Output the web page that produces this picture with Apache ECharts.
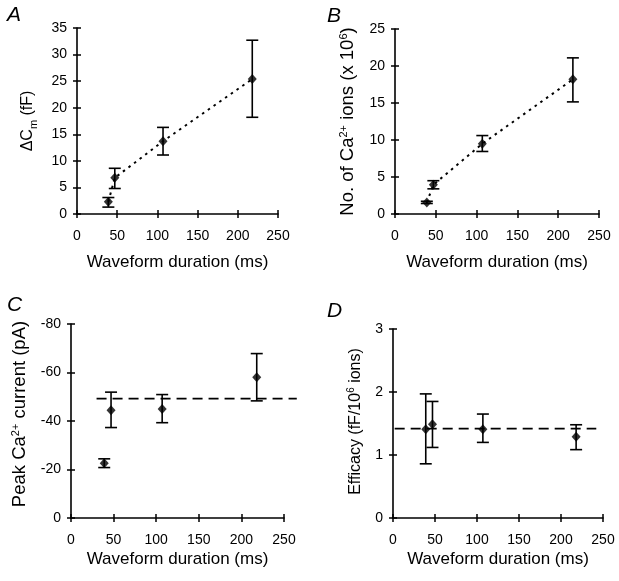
<!DOCTYPE html>
<html>
<head>
<meta charset="utf-8">
<script src="https://cdn.jsdelivr.net/npm/echarts@6/dist/echarts.min.js"></script>
<style>html,body{margin:0;padding:0;background:#fff}#c{width:619px;height:581px}</style>
</head>
<body>
<div id="c"></div>
<script>
// ---- data ----
const durationMs = [39, 47, 107, 218];
const xTicks = [0, 50, 100, 150, 200, 250];

// A: capacitance change (fF)
const capMean = [2.3, 6.8, 13.7, 25.4];
const capLow  = [1.3, 4.8, 11.1, 18.2];
const capHigh = [3.1, 8.6, 16.3, 32.7];

// B: number of Ca2+ ions (x 10^6)
const ionsMean = [1.56, 3.95, 9.5, 18.2];
const ionsLow  = [1.42, 3.4, 8.45, 15.15];
const ionsHigh = [1.72, 4.5, 10.6, 21.1];

// C: peak Ca2+ current (pA)
const currMean = [-22.6, -44.4, -44.9, -58.0];
const currLow  = [-20.8, -37.3, -39.3, -48.3];
const currHigh = [-24.4, -51.9, -50.9, -67.8];
const currFitX = [30, 265];
const currFitY = -49.2;

// D: efficacy (fF / 10^6 ions)
const effMean = [1.41, 1.49, 1.41, 1.29];
const effLow  = [0.86, 1.12, 1.2, 1.085];
const effHigh = [1.97, 1.85, 1.65, 1.48];
const effFitX = [2, 242];
const effFitY = 1.42;

// ---- chart ----
const FONT = '"Liberation Sans", Arial, Helvetica, sans-serif';
const chart = echarts.init(document.getElementById('c'), null, {renderer: 'canvas'});

const grids = [
  {left: 77, top: 28, width: 201, height: 186},
  {left: 395, top: 29, width: 204, height: 185},
  {left: 71, top: 324, width: 213, height: 194},
  {left: 393, top: 329, width: 210, height: 189}
];
const xNameGap = [40, 40, 33, 33];
const yCfg = [
  {min: 0, max: 35, interval: 5, inverse: false, name: '{n|ΔC}{sub|m}{n| (fF)}', gap: 38, fs: 16, pad: [0, 0, 0, 0]},
  {min: 0, max: 25, interval: 5, inverse: false, name: '{n|No. of Ca}{sup|2+}{n| ions (x 10}{sup|6}{n|)}', gap: 36, fs: 18.5, pad: [0, 0, 0, 0]},
  {min: -80, max: 0, interval: 20, inverse: true, name: '{n|Peak Ca}{sup|2+}{n| current (pA)}', gap: 40, fs: 18.5, pad: [0, 0, 0, 14]},
  {min: 0, max: 3, interval: 1, inverse: false, name: '{n|Efficacy (fF/10}{sup|6}{n| ions)}', gap: 26, fs: 16, pad: [0, 0, 0, 4]}
];

const xAxis = [], yAxis = [];
grids.forEach((g, i) => {
  xAxis.push({
    gridIndex: i, type: 'value', min: 0, max: 250, interval: 50, position: 'bottom',
    axisLine: {show: true, lineStyle: {color: '#000', width: 1.6}},
    axisTick: {show: true, inside: false, length: 4, lineStyle: {color: '#000', width: 1.5}},
    axisLabel: {show: true, color: '#000', fontSize: 14, fontFamily: FONT, margin: 15},
    splitLine: {show: false},
    name: 'Waveform duration (ms)', nameLocation: 'middle', nameGap: xNameGap[i],
    nameTextStyle: {color: '#000', fontSize: 17, fontFamily: FONT}
  });
  xAxis.push({
    gridIndex: i, type: 'value', min: 0, max: 250, interval: 50, position: 'bottom',
    axisLine: {show: false},
    axisTick: {show: true, inside: true, length: 4, lineStyle: {color: '#000', width: 1.5}},
    axisLabel: {show: false}, splitLine: {show: false}
  });
  const c = yCfg[i];
  const supFs = Math.round(c.fs * 0.62);
  const rich = {
    n: {fontSize: c.fs, fontFamily: FONT, color: '#000', lineHeight: 22, verticalAlign: 'middle'},
    sup: {fontSize: supFs, fontFamily: FONT, color: '#000', lineHeight: 22, verticalAlign: 'top', padding: [1, 0, 0, 0]},
    sub: {fontSize: 11, fontFamily: FONT, color: '#000', lineHeight: 22, verticalAlign: 'bottom'}
  };
  yAxis.push({
    gridIndex: i, type: 'value', min: c.min, max: c.max, interval: c.interval, inverse: c.inverse, position: 'left',
    axisLine: {show: true, onZero: false, lineStyle: {color: '#000', width: 1.6}},
    axisTick: {show: true, inside: false, length: 4, lineStyle: {color: '#000', width: 1.5}},
    axisLabel: {show: true, color: '#000', fontSize: 14, fontFamily: FONT, margin: 10},
    splitLine: {show: false},
    name: c.name, nameLocation: 'middle', nameGap: c.gap, nameRotate: 90,
    nameTextStyle: {rich: rich, fontSize: c.fs, fontFamily: FONT, color: '#000', padding: c.pad}
  });
  yAxis.push({
    gridIndex: i, type: 'value', min: c.min, max: c.max, interval: c.interval, inverse: c.inverse, position: 'left',
    axisLine: {show: false},
    axisTick: {show: true, inside: true, length: 4, lineStyle: {color: '#000', width: 1.5}},
    axisLabel: {show: false}, splitLine: {show: false}
  });
});

function errRender(params, api) {
  const x = api.value(0), lo = api.value(1), hi = api.value(2);
  const a = api.coord([x, lo]), b = api.coord([x, hi]);
  const hw = 6;
  const st = {stroke: '#000', lineWidth: 1.6};
  return {type: 'group', children: [
    {type: 'line', shape: {x1: a[0], y1: a[1], x2: b[0], y2: b[1]}, style: st},
    {type: 'line', shape: {x1: a[0] - hw, y1: a[1], x2: a[0] + hw, y2: a[1]}, style: st},
    {type: 'line', shape: {x1: b[0] - hw, y1: b[1], x2: b[0] + hw, y2: b[1]}, style: st}
  ]};
}

function fitRender(params, api) {
  const a = api.coord([api.value(0), api.value(2)]);
  const b = api.coord([api.value(1), api.value(2)]);
  return {type: 'line', shape: {x1: a[0], y1: a[1], x2: b[0], y2: b[1]},
    style: {stroke: '#000', lineWidth: 1.8, lineDash: [10, 6]}};
}

const panels = [
  {mean: capMean, lo: capLow, hi: capHigh},
  {mean: ionsMean, lo: ionsLow, hi: ionsHigh},
  {mean: currMean, lo: currLow, hi: currHigh, fitX: currFitX, fitY: currFitY},
  {mean: effMean, lo: effLow, hi: effHigh, fitX: effFitX, fitY: effFitY}
];

const series = [];
panels.forEach((p, i) => {
  const xi = 2 * i, yi = 2 * i;
  if (p.fitX) {
    series.push({
      type: 'custom', xAxisIndex: xi, yAxisIndex: yi, clip: false, renderItem: fitRender,
      data: [[p.fitX[0], p.fitX[1], p.fitY]], z: 2, silent: true
    });
  } else {
    series.push({
      type: 'line', xAxisIndex: xi, yAxisIndex: yi, showSymbol: false, symbol: 'none',
      data: durationMs.map((x, k) => [x, p.mean[k]]),
      lineStyle: {color: '#000', width: 2, type: [2.5, 4.5]}, z: 2, silent: true
    });
  }
  series.push({
    type: 'custom', xAxisIndex: xi, yAxisIndex: yi, renderItem: errRender, clip: false,
    data: durationMs.map((x, k) => [x, p.lo[k], p.hi[k]]), z: 3, silent: true
  });
  series.push({
    type: 'scatter', xAxisIndex: xi, yAxisIndex: yi, symbol: 'diamond', symbolSize: [9, 10],
    itemStyle: {color: '#000'}, data: durationMs.map((x, k) => [x, p.mean[k]]), z: 4, silent: true
  });
});

const letters = [['A', 7, 5], ['B', 327, 6], ['C', 7, 295], ['D', 327, 301]];
const title = letters.map(l => ({
  text: l[0], left: l[1], top: l[2], padding: 0,
  textStyle: {fontSize: 21, fontStyle: 'italic', fontWeight: 'normal', fontFamily: FONT, color: '#000'}
}));

chart.setOption({
  animation: false,
  backgroundColor: '#fff',
  title: title,
  grid: grids.map(g => Object.assign({containLabel: false, outerBoundsMode: 'none'}, g)),
  xAxis: xAxis,
  yAxis: yAxis,
  series: series
});
</script>
</body>
</html>
